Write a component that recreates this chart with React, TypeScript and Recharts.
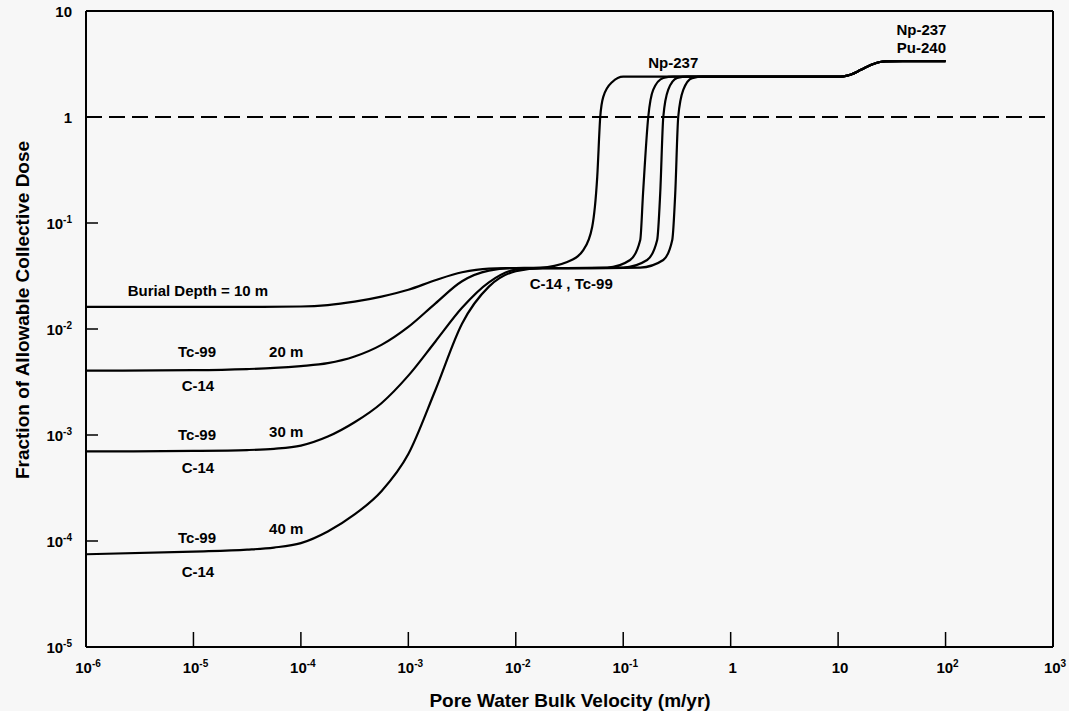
import React from 'react';
import {
  LineChart,
  Line,
  XAxis,
  YAxis,
  ReferenceLine,
  ReferenceDot,
} from 'recharts';

// tick values (decades)
const xTicks = [1e-6, 1e-5, 1e-4, 1e-3, 1e-2, 1e-1, 1, 10, 100, 1000];
const yTicks = [1e-5, 1e-4, 1e-3, 1e-2, 1e-1, 1, 10];

// curves, one per burial depth
const depth10 = [
  { x: 1e-6, y: 0.01618 }, { x: 1e-5, y: 0.01618 }, { x: 3.16e-5, y: 0.01618 },
  { x: 1e-4, y: 0.0163 }, { x: 1.78e-4, y: 0.0168 }, { x: 3.16e-4, y: 0.01811 },
  { x: 5.62e-4, y: 0.02023 }, { x: 1e-3, y: 0.02344 }, { x: 1.78e-3, y: 0.02884 },
  { x: 3.16e-3, y: 0.03428 }, { x: 5.62e-3, y: 0.03715 }, { x: 0.01, y: 0.0376 },
  { x: 0.0169, y: 0.038 }, { x: 0.0301, y: 0.0429 }, { x: 0.0425, y: 0.0556 },
  { x: 0.0514, y: 0.0916 }, { x: 0.0573, y: 0.272 }, { x: 0.0611, y: 1.0 },
  { x: 0.0652, y: 1.55 }, { x: 0.0791, y: 2.14 }, { x: 0.1, y: 2.4 },
  { x: 10, y: 2.4 }, { x: 11.2, y: 2.42 }, { x: 13.2, y: 2.52 }, { x: 16.1, y: 2.77 },
  { x: 18.6, y: 2.98 }, { x: 21.3, y: 3.16 }, { x: 24.5, y: 3.3 }, { x: 27.5, y: 3.35 },
  { x: 40, y: 3.37 }, { x: 100, y: 3.37 },
];

const depth20 = [
  { x: 1e-6, y: 0.00404 }, { x: 1e-5, y: 0.00409 }, { x: 3.16e-5, y: 0.00419 },
  { x: 5.62e-5, y: 0.00429 }, { x: 1e-4, y: 0.00447 }, { x: 1.78e-4, y: 0.00476 },
  { x: 3.16e-4, y: 0.0055 }, { x: 5.62e-4, y: 0.00708 }, { x: 1e-3, y: 0.01047 },
  { x: 1.78e-3, y: 0.01738 }, { x: 3.16e-3, y: 0.02818 }, { x: 5.62e-3, y: 0.03548 },
  { x: 0.01, y: 0.0376 }, { x: 0.03, y: 0.0376 },
  { x: 0.071, y: 0.038 }, { x: 0.116, y: 0.0448 }, { x: 0.144, y: 0.0692 },
  { x: 0.153, y: 0.192 }, { x: 0.171, y: 1.0 }, { x: 0.19, y: 1.8 },
  { x: 0.236, y: 2.33 }, { x: 0.292, y: 2.4 },
  { x: 10, y: 2.4 }, { x: 11.2, y: 2.42 }, { x: 13.2, y: 2.52 }, { x: 16.1, y: 2.77 },
  { x: 18.6, y: 2.98 }, { x: 21.3, y: 3.16 }, { x: 24.5, y: 3.3 }, { x: 27.5, y: 3.35 },
  { x: 40, y: 3.37 }, { x: 100, y: 3.37 },
];

const depth30 = [
  { x: 1e-6, y: 7.0e-4 }, { x: 1e-5, y: 7.08e-4 }, { x: 3.16e-5, y: 7.21e-4 },
  { x: 5.62e-5, y: 7.41e-4 }, { x: 1e-4, y: 7.94e-4 }, { x: 1.78e-4, y: 9.66e-4 },
  { x: 3.16e-4, y: 1.318e-3 }, { x: 5.62e-4, y: 1.995e-3 }, { x: 1e-3, y: 3.63e-3 },
  { x: 1.78e-3, y: 7.59e-3 }, { x: 3.16e-3, y: 0.01585 }, { x: 5.62e-3, y: 0.02754 },
  { x: 0.01, y: 0.0363 }, { x: 0.0178, y: 0.0376 }, { x: 0.05, y: 0.0376 },
  { x: 0.1, y: 0.038 }, { x: 0.167, y: 0.0448 }, { x: 0.207, y: 0.0692 },
  { x: 0.221, y: 0.192 }, { x: 0.236, y: 1.0 }, { x: 0.262, y: 1.8 },
  { x: 0.318, y: 2.33 }, { x: 0.394, y: 2.4 },
  { x: 10, y: 2.4 }, { x: 11.2, y: 2.42 }, { x: 13.2, y: 2.52 }, { x: 16.1, y: 2.77 },
  { x: 18.6, y: 2.98 }, { x: 21.3, y: 3.16 }, { x: 24.5, y: 3.3 }, { x: 27.5, y: 3.35 },
  { x: 40, y: 3.37 }, { x: 100, y: 3.37 },
];

const depth40 = [
  { x: 1e-6, y: 7.5e-5 }, { x: 1e-5, y: 7.94e-5 }, { x: 3.16e-5, y: 8.28e-5 },
  { x: 5.62e-5, y: 8.67e-5 }, { x: 1e-4, y: 9.55e-5 }, { x: 1.78e-4, y: 1.23e-4 },
  { x: 3.16e-4, y: 1.78e-4 }, { x: 5.62e-4, y: 2.95e-4 }, { x: 1e-3, y: 6.61e-4 },
  { x: 1.78e-3, y: 2.63e-3 }, { x: 3.16e-3, y: 0.01122 }, { x: 5.62e-3, y: 0.0251 },
  { x: 0.01, y: 0.0351 }, { x: 0.0178, y: 0.0376 }, { x: 0.07, y: 0.0376 },
  { x: 0.144, y: 0.038 }, { x: 0.236, y: 0.0448 }, { x: 0.286, y: 0.0692 },
  { x: 0.305, y: 0.192 }, { x: 0.325, y: 1.0 }, { x: 0.362, y: 1.8 },
  { x: 0.439, y: 2.33 }, { x: 0.556, y: 2.4 },
  { x: 10, y: 2.4 }, { x: 11.2, y: 2.42 }, { x: 13.2, y: 2.52 }, { x: 16.1, y: 2.77 },
  { x: 18.6, y: 2.98 }, { x: 21.3, y: 3.16 }, { x: 24.5, y: 3.3 }, { x: 27.5, y: 3.35 },
  { x: 40, y: 3.37 }, { x: 100, y: 3.37 },
];

const series = [depth10, depth20, depth30, depth40];

// text annotations, placed in data coordinates
const notes = [
  { x: 1.1e-5, y: 0.0233, text: 'Burial Depth = 10 m' },
  { x: 1.08e-5, y: 0.00607, text: 'Tc-99' },
  { x: 7.3e-5, y: 0.0062, text: '20 m' },
  { x: 1.1e-5, y: 0.0029, text: 'C-14' },
  { x: 1.08e-5, y: 1.02e-3, text: 'Tc-99' },
  { x: 7.3e-5, y: 1.07e-3, text: '30 m' },
  { x: 1.1e-5, y: 4.89e-4, text: 'C-14' },
  { x: 1.08e-5, y: 1.09e-4, text: 'Tc-99' },
  { x: 7.3e-5, y: 1.3e-4, text: '40 m' },
  { x: 1.1e-5, y: 5.2e-5, text: 'C-14' },
  { x: 0.0328, y: 0.0266, text: 'C-14 , Tc-99' },
  { x: 0.292, y: 3.3, text: 'Np-237' },
  { x: 59.6, y: 6.76, text: 'Np-237' },
  { x: 59.6, y: 4.57, text: 'Pu-240' },
];

const FONT = '"Liberation Sans", Arial, Helvetica, sans-serif';

const PowText = ({ x, y, value, anchor }: { x: number; y: number; value: number; anchor: string }) => {
  const e = Math.round(Math.log10(value));
  if (e === 0 || e === 1) {
    return (
      <text x={x} y={y} textAnchor={anchor} fontFamily={FONT} fontWeight="bold" fontSize={15} fill="#000">
        {e === 0 ? '1' : '10'}
      </text>
    );
  }
  return (
    <text x={x} y={y} textAnchor={anchor} fontFamily={FONT} fontWeight="bold" fontSize={15} fill="#000">
      <tspan>10</tspan>
      <tspan dy={-6} fontSize={10}>{String(e)}</tspan>
    </text>
  );
};

const XTick = (props: any) => {
  const { x, y, payload } = props;
  return (
    <g>
      <line x1={x} y1={y} x2={x} y2={y - 15} stroke="#000" strokeWidth={1.5} />
      <PowText x={x + 2} y={y + 26} value={payload.value} anchor="middle" />
    </g>
  );
};

const YTick = (props: any) => {
  const { x, y, payload } = props;
  return (
    <g>
      <line x1={x} y1={y} x2={x + 12} y2={y} stroke="#000" strokeWidth={1.5} />
      <PowText x={x - 14} y={y + 6} value={payload.value} anchor="end" />
    </g>
  );
};

const NoteShape = (text: string) => (p: any) => (
  <text
    x={p.cx}
    y={p.cy}
    textAnchor="middle"
    dominantBaseline="central"
    fontFamily={FONT}
    fontWeight="bold"
    fontSize={15}
    fill="#000"
  >
    {text}
  </text>
);

export default function App() {
  return (
    <div style={{ position: 'absolute', left: 0, top: 0, width: 1069, height: 711, background: '#f7f7f7' }}>
      <LineChart width={1069} height={711} margin={{ top: 11, right: 16, bottom: 0, left: 0 }}>
        <XAxis
          dataKey="x"
          type="number"
          scale="log"
          domain={[1e-6, 1000]}
          ticks={xTicks}
          allowDataOverflow
          height={64}
          tickSize={0}
          tickMargin={0}
          tickLine={false}
          tick={<XTick />}
          axisLine={{ stroke: '#000', strokeWidth: 2 }}
        />
        <YAxis
          dataKey="y"
          type="number"
          scale="log"
          domain={[1e-5, 10]}
          ticks={yTicks}
          allowDataOverflow
          width={86}
          tickSize={0}
          tickMargin={0}
          tickLine={false}
          tick={<YTick />}
          axisLine={{ stroke: '#000', strokeWidth: 2 }}
        />
        <ReferenceLine y={10} stroke="#000" strokeWidth={2} />
        <ReferenceLine x={1000} stroke="#000" strokeWidth={2} />
        <ReferenceLine y={1} stroke="#000" strokeWidth={2} strokeDasharray="16 7" />
        {series.map((d, i) => (
          <Line
            key={i}
            data={d}
            dataKey="y"
            type="monotone"
            stroke="#000"
            strokeWidth={2.2}
            dot={false}
            isAnimationActive={false}
          />
        ))}
        {notes.map((n, i) => (
          <ReferenceDot key={'n' + i} x={n.x} y={n.y} r={0} shape={NoteShape(n.text)} />
        ))}
        <text x={570} y={700} textAnchor="middle" dominantBaseline="central" fontFamily={FONT} fontWeight="bold" fontSize={19} fill="#000">
          Pore Water Bulk Velocity (m/yr)
        </text>
        <text
          x={22}
          y={310}
          transform="rotate(-90 22 310)"
          textAnchor="middle"
          dominantBaseline="central"
          fontFamily={FONT}
          fontWeight="bold"
          fontSize={19}
          fill="#000"
        >
          Fraction of Allowable Collective Dose
        </text>
      </LineChart>
    </div>
  );
}
